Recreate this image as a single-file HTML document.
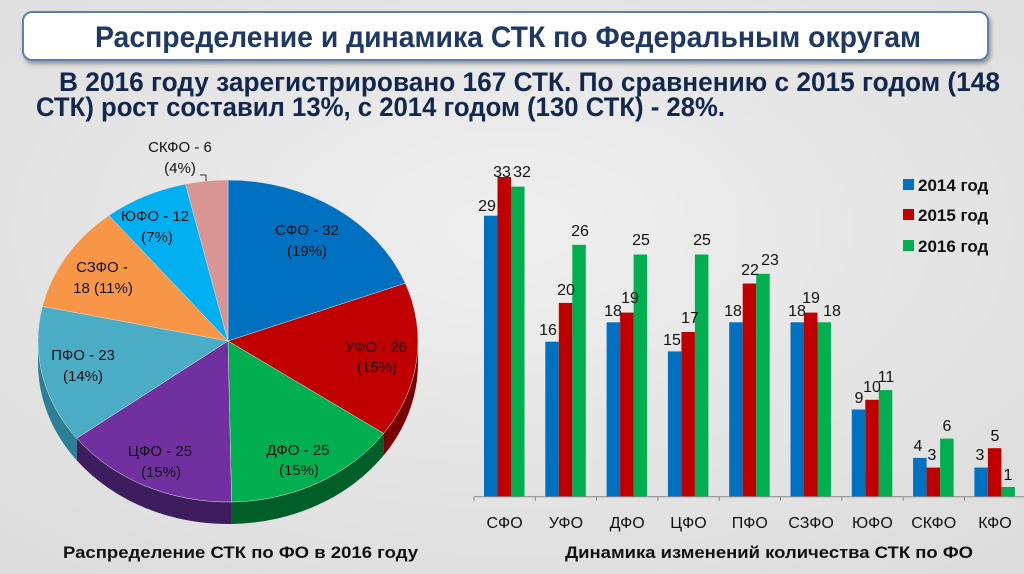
<!DOCTYPE html>
<html><head><meta charset="utf-8"><style>
html,body{margin:0;padding:0;background:#e8e8e8;}
svg{display:block;font-family:"Liberation Sans","DejaVu Sans",sans-serif;}
</style></head><body>
<svg width="1024" height="574" viewBox="0 0 1024 574" xmlns="http://www.w3.org/2000/svg">
<defs>
<radialGradient id="bg" cx="50%" cy="40%" r="75%"><stop offset="0" stop-color="#efefef"/><stop offset="1" stop-color="#dcdcdc"/></radialGradient>
<filter id="sh" x="-5%" y="-20%" width="110%" height="150%"><feDropShadow dx="2" dy="3" stdDeviation="2" flood-color="#000" flood-opacity="0.35"/></filter>
</defs>
<rect width="1024" height="574" fill="url(#bg)"/>
<rect x="23" y="12" width="965" height="48" rx="9" fill="#fff" stroke="#5b7fae" stroke-width="2" filter="url(#sh)"/>
<text x="95" y="47" font-size="30" font-weight="bold" fill="#1f3864" textLength="826" lengthAdjust="spacingAndGlyphs">Распределение и динамика СТК по Федеральным округам</text>
<text x="59" y="91" font-size="27" font-weight="bold" fill="#13264b" textLength="941" lengthAdjust="spacingAndGlyphs">В 2016 году зарегистрировано 167 СТК.  По сравнению с 2015 годом (148</text>
<text x="36" y="116" font-size="27" font-weight="bold" fill="#13264b" textLength="689" lengthAdjust="spacingAndGlyphs">СТК) рост составил 13%, с 2014 годом (130 СТК) - 28%.</text>

<path d="M418,341 A190,161 0 0 1 383.6,433.4 L383.6,455.4 A190,161 0 0 0 418,363 Z" fill="#7a0000"/>
<path d="M383.6,433.4 A190,161 0 0 1 231.6,502 L231.6,524 A190,161 0 0 0 383.6,455.4 Z" fill="#005e28"/>
<path d="M231.6,502 A190,161 0 0 1 76.7,438.3 L76.7,460.3 A190,161 0 0 0 231.6,524 Z" fill="#3e1d5e"/>
<path d="M76.7,438.3 A190,161 0 0 1 38,341 L38,363 A190,161 0 0 0 76.7,460.3 Z" fill="#2d7f95"/>
<g stroke="#ddd" stroke-width="0.5">
<path d="M228,341 L228,180 A190,161 0 0 1 405.3,283.2 Z" fill="#0070c0"/>
<path d="M228,341 L405.3,283.2 A190,161 0 0 1 383.6,433.4 Z" fill="#c00000"/>
<path d="M228,341 L383.6,433.4 A190,161 0 0 1 231.6,502 Z" fill="#00b050"/>
<path d="M228,341 L231.6,502 A190,161 0 0 1 76.7,438.3 Z" fill="#7030a0"/>
<path d="M228,341 L76.7,438.3 A190,161 0 0 1 42.4,306.4 Z" fill="#4bacc6"/>
<path d="M228,341 L42.4,306.4 A190,161 0 0 1 108.9,215.5 Z" fill="#f79646"/>
<path d="M228,341 L108.9,215.5 A190,161 0 0 1 185.5,184.1 Z" fill="#00b0f0"/>
<path d="M228,341 L185.5,184.1 A190,161 0 0 1 228,180 Z" fill="#d99594"/>
</g>
<path d="M200,175 L206,175 L206,181" fill="none" stroke="#333" stroke-width="1"/>
<g font-size="15" fill="#111" text-anchor="middle">
<text x="180" y="152">СКФО - 6</text><text x="180" y="173">(4%)</text>
<text x="155" y="221">ЮФО - 12</text><text x="157" y="242">(7%)</text>
<text x="102" y="272">СЗФО -</text><text x="103" y="293">18 (11%)</text>
<text x="307" y="235">СФО - 32</text><text x="307" y="256">(19%)</text>
<text x="376" y="352">УФО - 26</text><text x="377" y="372">(15%)</text>
<text x="83" y="360">ПФО - 23</text><text x="83" y="381">(14%)</text>
<text x="160" y="456">ЦФО - 25</text><text x="161" y="477">(15%)</text>
<text x="298" y="455">ДФО - 25</text><text x="299" y="475">(15%)</text>
</g>

<g>
<rect x="484" y="215.7" width="13.5" height="281" fill="#0070c0"/><rect x="497.5" y="177" width="13.5" height="319.7" fill="#c00000"/><rect x="511" y="186.6" width="13.5" height="310.1" fill="#00b050"/>
<rect x="545.3" y="341.7" width="13.5" height="155" fill="#0070c0"/><rect x="558.8" y="302.9" width="13.5" height="193.8" fill="#c00000"/><rect x="572.3" y="244.8" width="13.5" height="251.9" fill="#00b050"/>
<rect x="606.6" y="322.3" width="13.5" height="174.4" fill="#0070c0"/><rect x="620.1" y="312.6" width="13.5" height="184.1" fill="#c00000"/><rect x="633.6" y="254.5" width="13.5" height="242.2" fill="#00b050"/>
<rect x="667.9" y="351.4" width="13.5" height="145.3" fill="#0070c0"/><rect x="681.4" y="332" width="13.5" height="164.7" fill="#c00000"/><rect x="694.9" y="254.5" width="13.5" height="242.2" fill="#00b050"/>
<rect x="729.2" y="322.3" width="13.5" height="174.4" fill="#0070c0"/><rect x="742.7" y="283.5" width="13.5" height="213.2" fill="#c00000"/><rect x="756.2" y="273.8" width="13.5" height="222.9" fill="#00b050"/>
<rect x="790.5" y="322.3" width="13.5" height="174.4" fill="#0070c0"/><rect x="804" y="312.6" width="13.5" height="184.1" fill="#c00000"/><rect x="817.5" y="322.3" width="13.5" height="174.4" fill="#00b050"/>
<rect x="851.8" y="409.5" width="13.5" height="87.2" fill="#0070c0"/><rect x="865.3" y="399.8" width="13.5" height="96.9" fill="#c00000"/><rect x="878.8" y="390.1" width="13.5" height="106.6" fill="#00b050"/>
<rect x="913.1" y="457.9" width="13.5" height="38.8" fill="#0070c0"/><rect x="926.6" y="467.6" width="13.5" height="29.1" fill="#c00000"/><rect x="940.1" y="438.6" width="13.5" height="58.1" fill="#00b050"/>
<rect x="974.4" y="467.6" width="13.5" height="29.1" fill="#0070c0"/><rect x="987.9" y="448.2" width="13.5" height="48.5" fill="#c00000"/><rect x="1001.4" y="487" width="13.5" height="9.7" fill="#00b050"/>
</g>
<g stroke="#888" stroke-width="1">
<line x1="474" y1="496.7" x2="1024" y2="496.7"/>
<line x1="474" y1="496.7" x2="474" y2="501"/><line x1="535.3" y1="496.7" x2="535.3" y2="501"/><line x1="596.6" y1="496.7" x2="596.6" y2="501"/><line x1="657.9" y1="496.7" x2="657.9" y2="501"/><line x1="719.2" y1="496.7" x2="719.2" y2="501"/><line x1="780.5" y1="496.7" x2="780.5" y2="501"/><line x1="841.8" y1="496.7" x2="841.8" y2="501"/><line x1="903.1" y1="496.7" x2="903.1" y2="501"/><line x1="964.4" y1="496.7" x2="964.4" y2="501"/>
</g>
<g font-size="16" fill="#111" text-anchor="middle">
<text x="487" y="211">29</text><text x="502" y="177">33</text><text x="522" y="177">32</text>
<text x="548" y="335">16</text><text x="566" y="295">20</text><text x="580" y="236">26</text>
<text x="613" y="316">18</text><text x="630" y="303">19</text><text x="641" y="245">25</text>
<text x="672" y="345">15</text><text x="690" y="323">17</text><text x="702" y="245">25</text>
<text x="733" y="316">18</text><text x="750" y="275">22</text><text x="770" y="265">23</text>
<text x="797" y="316">18</text><text x="811" y="303">19</text><text x="832" y="316">18</text>
<text x="859" y="403">9</text><text x="872" y="392">10</text><text x="886" y="382">11</text>
<text x="918" y="451">4</text><text x="932" y="460">3</text><text x="947" y="431">6</text>
<text x="980" y="460">3</text><text x="995" y="441">5</text><text x="1008" y="480">1</text>
</g>
<g font-size="16" fill="#111" text-anchor="middle">
<text x="504.6" y="528">СФО</text><text x="565.9" y="528">УФО</text><text x="627.2" y="528">ДФО</text><text x="688.5" y="528">ЦФО</text><text x="749.8" y="528">ПФО</text><text x="811.1" y="528">СЗФО</text><text x="872.4" y="528">ЮФО</text><text x="933.7" y="528">СКФО</text><text x="995" y="528">КФО</text>
</g>
<g font-size="17" font-weight="bold" fill="#111">
<rect x="903" y="179" width="11" height="11" fill="#0070c0"/><text x="918" y="191">2014 год</text>
<rect x="903" y="209" width="11" height="11" fill="#c00000"/><text x="918" y="221">2015 год</text>
<rect x="903" y="240" width="11" height="11" fill="#00b050"/><text x="918" y="252">2016 год</text>
</g>
<text x="63" y="558" font-size="17" font-weight="bold" fill="#111" textLength="355" lengthAdjust="spacingAndGlyphs">Распределение СТК по ФО в 2016 году</text>
<text x="565" y="558" font-size="17" font-weight="bold" fill="#111" textLength="408" lengthAdjust="spacingAndGlyphs">Динамика изменений количества СТК по ФО</text>
</svg>
</body></html>
